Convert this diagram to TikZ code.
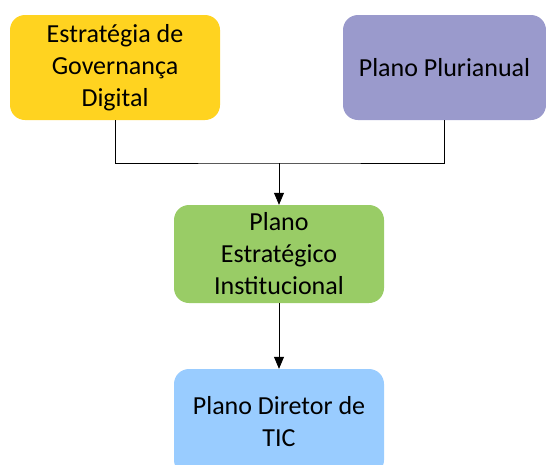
\documentclass[tikz,border=0pt]{standalone}
\usepackage{fontspec}
\setmainfont{Carlito}
\usepackage{tikz}
\usetikzlibrary{arrows.meta, positioning, calc}
\definecolor{amarelo}{HTML}{FFD320}
\definecolor{lilas}{HTML}{9A9ACC}
\definecolor{verde}{HTML}{99CC66}
\definecolor{azul}{HTML}{99CCFF}

\begin{document}
\begin{tikzpicture}[x=1pt, y=-1pt,
						every node/.style = {align=center, font=\fontsize{26}{32}\selectfont},
						bloco/.style = {rectangle, rounded corners=15pt, inner sep=0pt, minimum width=210pt},
						seta/.style = {-{Triangle[width=10pt,length=12pt]}, line width=0.8pt}]
	\useasboundingbox (0,0) rectangle (546,464);
	\node[bloco, fill=amarelo, minimum height=105pt] (egd) at (115,67.5) {Estratégia de\\Governança\\Digital};
	\node[bloco, fill=lilas, minimum width=203pt, minimum height=105pt] (ppa) at (444.5,67.5) {Plano Plurianual};
	\node[bloco, fill=verde, minimum height=98pt] (pei) at (279,254) {Plano\\Estratégico\\Institucional};
	\node[bloco, fill=azul, minimum height=106pt] (pdtic) at (279,422) {Plano Diretor de\\TIC};
	\coordinate (junta) at (279,163);
	% ligacoes
	\draw[line width=0.8pt] (egd.south) |- (junta) -| (ppa.south);
	\draw[seta] (junta) -- (pei.north);
	\draw[seta] (pei) -- (pdtic);
\end{tikzpicture}
\end{document}
